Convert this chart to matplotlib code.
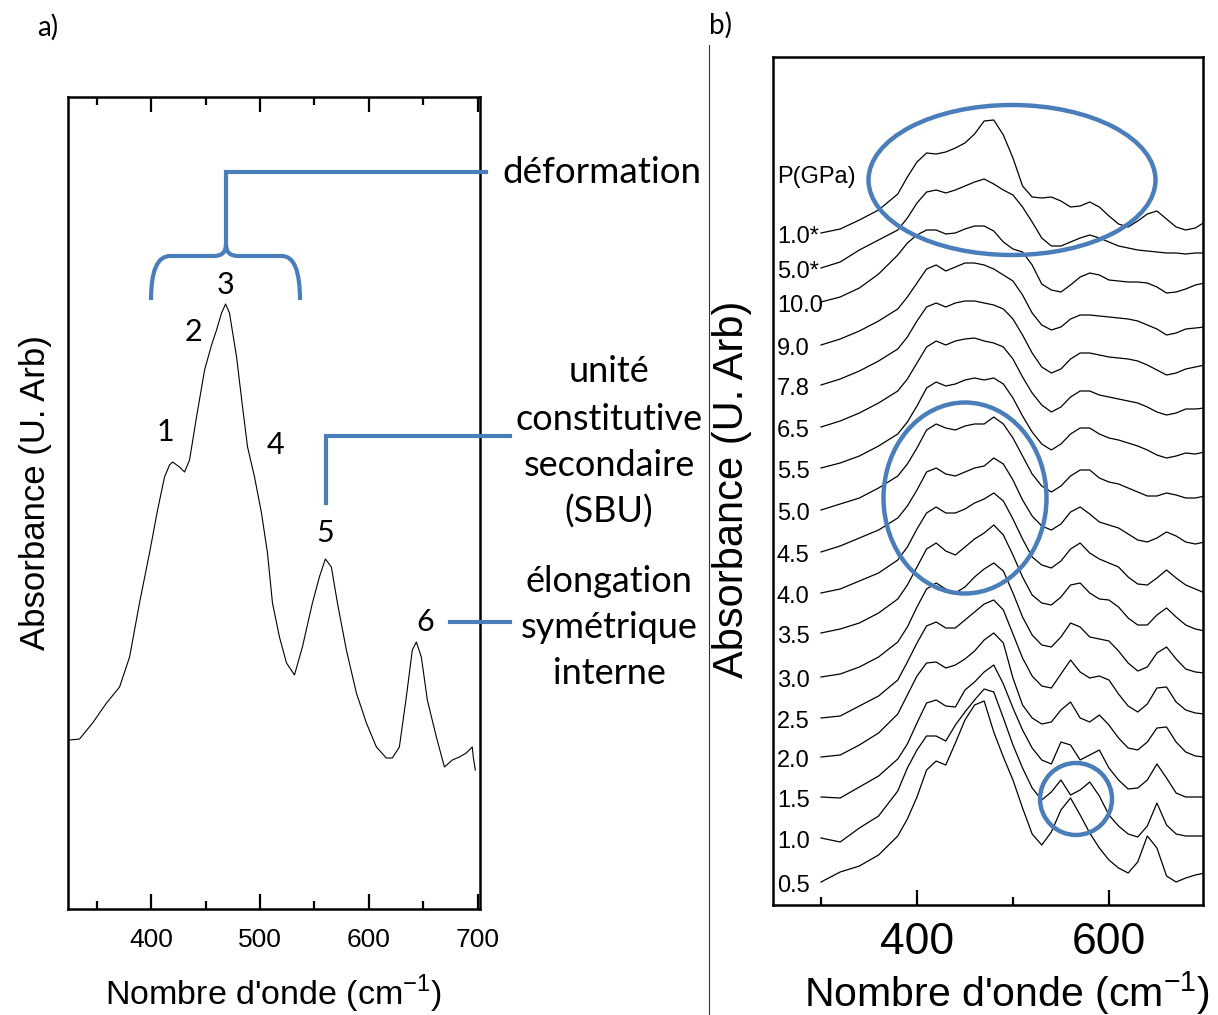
import matplotlib
matplotlib.use("Agg")
import matplotlib.pyplot as plt
from matplotlib.patches import Ellipse, PathPatch
from matplotlib.path import Path

plt.rcParams['font.family'] = ['Liberation Sans', 'DejaVu Sans']
plt.rcParams['mathtext.fontset'] = 'custom'
plt.rcParams['mathtext.rm'] = 'Liberation Sans'

BLUE = '#4a7ebb'
NOTE = ['Lato', 'DejaVu Sans']
W, H = 1218, 1015

# panel a : spectrum with the six bands
wn_a = [325.1, 334.2, 346.2, 359.0, 371.0, 380.2, 389.3, 398.5, 405.9, 412.3,
        416.9, 419.7, 426.1, 430.7, 435.3, 441.7, 449.1, 455.5, 460.1, 464.7,
        468.4, 472.0, 478.5, 484.0, 488.6, 495.0, 501.4, 506.9, 511.5, 517.9,
        524.4, 531.7, 539.0, 548.2, 554.6, 560.1, 565.6, 571.2, 579.4, 588.6,
        597.8, 607.0, 616.1, 621.6, 628.1, 634.5, 640.0, 643.7, 648.3, 653.8,
        662.1, 669.5, 676.8, 683.2, 689.6, 695.1, 696.0, 697.9]
abs_a = [1.69, 1.70, 1.86, 2.06, 2.22, 2.52, 3.06, 3.56, 3.99, 4.32,
         4.44, 4.47, 4.42, 4.37, 4.49, 4.92, 5.39, 5.64, 5.79, 5.96,
         6.05, 5.96, 5.52, 5.02, 4.62, 4.32, 3.96, 3.56, 3.06, 2.72,
         2.46, 2.34, 2.62, 3.06, 3.32, 3.50, 3.42, 3.06, 2.59, 2.16,
         1.86, 1.62, 1.51, 1.51, 1.62, 2.12, 2.59, 2.67, 2.52, 2.09,
         1.72, 1.42, 1.49, 1.52, 1.56, 1.62, 1.52, 1.39]

# panel b : spectra under pressure (same wavenumber grid for all)
wn_b = [300, 320, 340, 360, 380, 390, 400, 410, 420, 430, 440, 450, 460, 470,
        480, 490, 500, 510, 520, 530, 540, 550, 560, 570, 580, 590, 600, 610,
        620, 630, 640, 650, 660, 670, 680, 690, 700]
s05 = [0, 10, 16, 27, 46, 63, 85, 112, 121, 117, 139, 162, 177, 181, 150, 125, 102, 74, 48,
       37, 50, 72, 84, 67, 49, 34, 22, 14, 9, 20, 46, 34, 6, 0, 4, 7, 9]
s10 = [0, -4, 10, 22, 47, 70, 88, 102, 102, 97, 113, 126, 138, 149, 146, 120, 93, 70, 50,
       38, 46, 58, 43, 48, 56, 42, 23, 12, 4, 1, 12, 35, 13, 4, 2, 2, 2]
s15 = [0, -1, 10, 21, 38, 53, 74, 94, 97, 91, 90, 107, 115, 125, 132, 113, 89, 67, 49,
       37, 33, 55, 52, 37, 42, 47, 29, 17, 8, 9, 17, 33, 19, 4, 0, 0, 0]
s20 = [0, 2, 12, 24, 43, 62, 81, 94, 95, 89, 92, 98, 106, 117, 124, 114, 79, 52, 39,
       33, 35, 47, 55, 39, 35, 42, 32, 19, 9, 7, 15, 29, 30, 15, 5, 1, 0]
s25 = [0, 2, 12, 22, 38, 56, 75, 92, 96, 90, 90, 98, 106, 114, 118, 108, 84, 60, 42,
       32, 30, 44, 58, 46, 40, 42, 38, 24, 12, 6, 14, 30, 31, 16, 8, 5, 4]
s30 = [0, 3, 10, 20, 35, 50, 70, 88, 94, 88, 84, 90, 100, 108, 114, 106, 84, 60, 42,
       32, 30, 40, 54, 50, 40, 38, 36, 26, 14, 6, 10, 24, 30, 18, 8, 5, 4]
s35 = [0, 4, 10, 20, 34, 48, 66, 84, 90, 82, 78, 86, 94, 100, 108, 98, 78, 56, 38,
       30, 28, 36, 48, 50, 40, 34, 33, 26, 15, 8, 8, 18, 25, 16, 8, 4, 2]
s40 = [0, 4, 12, 20, 33, 46, 64, 80, 86, 80, 80, 84, 90, 94, 100, 92, 74, 54, 36,
       28, 25, 32, 44, 50, 40, 34, 30, 26, 16, 9, 8, 15, 23, 15, 8, 4, 0]
s45 = [0, 6, 14, 22, 34, 46, 62, 80, 84, 78, 76, 80, 84, 86, 94, 88, 72, 52, 36,
       26, 22, 28, 40, 45, 38, 30, 27, 24, 18, 12, 10, 14, 20, 16, 10, 8, 10]
s50 = [0, 6, 12, 22, 34, 46, 62, 80, 86, 82, 80, 84, 86, 86, 93, 86, 72, 54, 36,
       24, 18, 24, 34, 40, 40, 32, 28, 26, 22, 18, 14, 14, 17, 15, 12, 12, 14]
s55 = [0, 5, 12, 22, 34, 46, 62, 80, 86, 82, 84, 88, 90, 88, 90, 84, 70, 52, 36,
       24, 18, 24, 34, 40, 40, 34, 30, 28, 25, 22, 18, 13, 10, 12, 15, 14, 16]
s65 = [0, 6, 14, 24, 36, 48, 64, 80, 86, 82, 86, 88, 89, 86, 84, 80, 68, 50, 34,
       22, 15, 20, 30, 36, 36, 32, 30, 28, 26, 24, 20, 15, 12, 14, 18, 18, 19]
s78 = [0, 6, 14, 24, 36, 48, 64, 78, 82, 78, 82, 84, 84, 82, 80, 76, 66, 50, 32,
       18, 12, 16, 26, 32, 32, 30, 28, 27, 26, 24, 20, 15, 10, 12, 16, 18, 20]
s90 = [0, 6, 14, 24, 36, 48, 62, 76, 80, 74, 78, 82, 82, 80, 76, 70, 64, 50, 32,
       20, 15, 18, 26, 30, 30, 29, 28, 27, 26, 24, 20, 16, 10, 12, 16, 17, 18]
s100 = [0, 5, 14, 28, 47, 59, 67, 72, 72, 68, 69, 73, 76, 76, 71, 60, 53, 50, 37,
        18, 12, 10, 17, 25, 29, 27, 22, 21, 20, 20, 19, 15, 9, 10, 13, 17, 19]
s50d = [0, 6, 18, 28, 38, 50, 65, 76, 78, 75, 78, 82, 86, 89, 84, 78, 73, 61, 46,
        30, 22, 22, 26, 30, 33, 30, 26, 22, 20, 18, 17, 16, 15, 15, 14, 15, 15]
s10d = [0, 4, 13, 23, 39, 56, 71, 80, 79, 81, 85, 90, 99, 112, 113, 98, 75, 47, 36,
        35, 36, 32, 26, 27, 31, 26, 17, 9, 6, 12, 19, 22, 14, 6, 3, 5, 11]

pressures = ['0.5', '1.0', '1.5', '2.0', '2.5', '3.0', '3.5', '4.0', '4.5', '5.0',
             '5.5', '6.5', '7.8', '9.0', '10.0', '5.0*', '1.0*']
spectra = [s05, s10, s15, s20, s25, s30, s35, s40, s45, s50,
           s55, s65, s78, s90, s100, s50d, s10d]
stack = [23, 67, 108, 148, 187, 228, 272, 312, 353, 395,
         437, 478, 520, 560, 603, 637, 672]


def px_box(x0, y0, x1, y1):
    return [x0 / W, 1 - y1 / H, (x1 - x0) / W, (y1 - y0) / H]


fig = plt.figure(figsize=(W / 100, H / 100), dpi=100)

# ---------- panel a ----------
ax_a = fig.add_axes(px_box(68, 97, 480, 909))
ax_a.plot(wn_a, abs_a, color='black', lw=0.8)
ax_a.set_xlim(323.6, 702.2)
ax_a.set_ylim(0, 8.12)
ax_a.set_yticks([])
ax_a.set_xticks([400, 500, 600, 700])
ax_a.set_xticks([350, 450, 550, 650], minor=True)
ax_a.tick_params(axis='x', which='both', direction='in', top=True, bottom=True,
                 width=1.6, labelsize=19, pad=14)
ax_a.tick_params(axis='x', which='major', length=11)
ax_a.tick_params(axis='x', which='minor', length=6)
for s in ax_a.spines.values():
    s.set_linewidth(1.8)
ax_a.set_ylabel('Absorbance (U. Arb)', fontsize=25)
ax_a.yaxis.set_label_coords(-0.039, 0.513)
ax_a.set_xlabel("Nombre d'onde (cm$^{\\mathregular{-1}}$)", fontsize=24.5)
ax_a.xaxis.set_label_coords(0.498, -0.079)

# ---------- panel b ----------
ax_b = fig.add_axes(px_box(773, 57, 1203, 905))
for lab, sp, off in zip(pressures, spectra, stack):
    ax_b.plot(wn_b, [off + v for v in sp], color='black', lw=0.9)
    ax_b.text(254, off - 4, lab, ha='left', va='center', fontsize=17)
ax_b.text(254, 728, 'P(GPa)', ha='left', va='center', fontsize=17)
ax_b.set_xlim(250, 698)
ax_b.set_ylim(0, 848)
ax_b.set_yticks([])
ax_b.set_xticks([400, 600])
ax_b.set_xticks([300, 500], minor=True)
ax_b.tick_params(axis='x', which='both', direction='in', width=1.6, labelsize=32, pad=12)
ax_b.tick_params(axis='x', which='major', length=11)
ax_b.tick_params(axis='x', which='minor', length=6)
for s in ax_b.spines.values():
    s.set_linewidth(1.8)
ax_b.set_ylabel('Absorbance (U. Arb)', fontsize=30)
ax_b.yaxis.set_label_coords(-0.049, 0.49)
ax_b.set_xlabel("Nombre d'onde (cm$^{\\mathregular{-1}}$)", fontsize=29.5)
ax_b.xaxis.set_label_coords(0.544, -0.076)

# ---------- annotations (pixel overlay) ----------
ov = fig.add_axes([0, 0, 1, 1], zorder=5)
ov.set_xlim(0, W)
ov.set_ylim(H, 0)
ov.axis('off')
ov.patch.set_alpha(0)

brace = Path([(151, 300), (151, 256), (170, 256), (214, 256), (226, 256), (226, 244),
              (226, 256), (238, 256), (282, 256), (300, 256), (300, 300)],
             [Path.MOVETO, Path.CURVE3, Path.CURVE3, Path.LINETO, Path.CURVE3, Path.CURVE3,
              Path.CURVE3, Path.CURVE3, Path.LINETO, Path.CURVE3, Path.CURVE3])
ov.add_patch(PathPatch(brace, fill=False, ec=BLUE, lw=3))
ov.plot([226, 226, 486], [244, 172, 172], color=BLUE, lw=3, solid_joinstyle='miter')
ov.plot([326, 326, 510], [503, 436, 436], color=BLUE, lw=3, solid_joinstyle='miter')
ov.plot([450, 510], [622, 622], color=BLUE, lw=3)

for txt, x, y in zip(['1', '2', '3', '4', '5', '6'],
                     [165, 193, 226, 275, 325, 425],
                     [432, 332, 285, 445, 533, 622]):
    ov.text(x, y, txt, fontfamily=NOTE, fontsize=22, ha='center', va='center')

ov.text(502, 172, 'déformation', fontfamily=NOTE, fontsize=26.5, ha='left', va='center')
for txt, y in zip(['unité', 'constitutive', 'secondaire', '(SBU)'], [372, 419, 465, 512]):
    ov.text(609, y, txt, fontfamily=NOTE, fontsize=26, ha='center', va='center')
for txt, y in zip(['élongation', 'symétrique', 'interne'], [581, 628, 674]):
    ov.text(609, y, txt, fontfamily=NOTE, fontsize=26, ha='center', va='center')

ov.text(37, 27, 'a)', fontfamily=NOTE, fontsize=20, ha='left', va='center')
ov.text(709, 25, 'b)', fontfamily=NOTE, fontsize=20, ha='left', va='center')
ov.plot([709, 709], [45, 1015], color='#333333', lw=0.8)

ov.add_patch(Ellipse((1012, 180), 287, 150, fill=False, ec=BLUE, lw=3.2))
ov.add_patch(Ellipse((965, 498), 163, 191, fill=False, ec=BLUE, lw=3.2))
ov.add_patch(Ellipse((1076, 799), 72, 72, fill=False, ec=BLUE, lw=3.2))

fig.savefig('out.png', dpi=100)
